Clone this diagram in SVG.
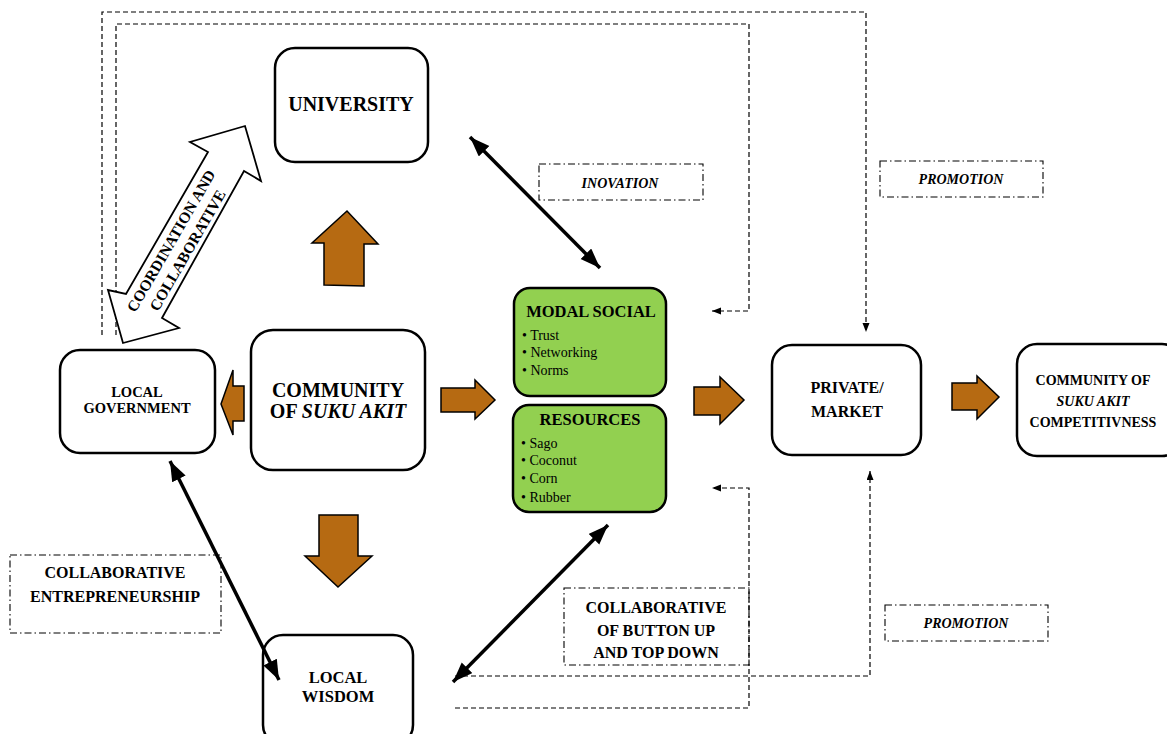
<svg xmlns="http://www.w3.org/2000/svg" width="1167" height="734" viewBox="0 0 1167 734">
<style>
.box{fill:#fff;stroke:#000;stroke-width:2.5}
.green{fill:#92D050;stroke:#000;stroke-width:2.5}
.orange{fill:#B66A12;stroke:#000;stroke-width:1.5;stroke-linejoin:miter}
.dash{fill:none;stroke:#000;stroke-width:1.2;stroke-dasharray:5 3}
.dd{fill:#fff;stroke:#000;stroke-width:1.1;stroke-dasharray:7 3 1.5 3}
.thick{fill:none;stroke:#000;stroke-width:3.5}
.b{font-weight:bold}
.c{text-anchor:middle}
.i{font-style:italic}
</style>
<defs>
<marker id="big" markerUnits="userSpaceOnUse" markerWidth="22" markerHeight="16" refX="20" refY="7.5" orient="auto-start-reverse" viewBox="0 0 22 16">
<path d="M0,0 L20,7.5 L0,15 z" fill="#000"/>
</marker>
<marker id="small" markerUnits="userSpaceOnUse" markerWidth="10" markerHeight="8" refX="9" refY="3.5" orient="auto" viewBox="0 0 10 8">
<path d="M0,0 L9,3.5 L0,7 z" fill="#000"/>
</marker>
</defs>

<g font-family="'Liberation Serif', 'DejaVu Serif', serif" fill="#000">

<g id="university">
<rect class="box" x="275" y="48" width="153" height="114" rx="20"/>
<text class="b c" x="351" y="111" font-size="20">UNIVERSITY</text>
</g>

<g id="local-government">
<rect class="box" x="60" y="350" width="155" height="103" rx="20"/>
<text class="b c" x="137" y="397" font-size="14.5">LOCAL</text>
<text class="b c" x="137" y="413" font-size="14.5">GOVERNMENT</text>
</g>

<g id="community">
<rect class="box" x="251" y="330" width="174" height="140" rx="22"/>
<text class="b c" x="338" y="397" font-size="20">COMMUNITY</text>
<text class="b c" x="338" y="418" font-size="20">OF <tspan class="i">SUKU AKIT</tspan></text>
</g>

<g id="local-wisdom">
<rect class="box" x="263" y="635" width="150" height="110" rx="20"/>
<text class="b c" x="338" y="683" font-size="16.5">LOCAL</text>
<text class="b c" x="338" y="702" font-size="16.5">WISDOM</text>
</g>

<g id="modal-social">
<rect class="green" x="514" y="288" width="152" height="108" rx="16"/>
<text class="b c" x="591" y="317" font-size="16.5">MODAL SOCIAL</text>
<text x="522" y="340" font-size="14">• Trust</text>
<text x="522" y="357" font-size="14">• Networking</text>
<text x="522" y="375" font-size="14">• Norms</text>
</g>

<g id="resources">
<rect class="green" x="513" y="405" width="153" height="107" rx="16"/>
<text class="b c" x="590" y="425" font-size="16.5">RESOURCES</text>
<text x="521" y="448" font-size="14">• Sago</text>
<text x="521" y="465" font-size="14">• Coconut</text>
<text x="521" y="483" font-size="14">• Corn</text>
<text x="521" y="502" font-size="14">• Rubber</text>
</g>

<g id="private-market">
<rect class="box" x="772" y="345" width="149" height="110" rx="20"/>
<text class="b c" x="847" y="393" font-size="16">PRIVATE/</text>
<text class="b c" x="847" y="417" font-size="16">MARKET</text>
</g>

<g id="competitiveness">
<rect class="box" x="1017" y="344" width="165" height="112" rx="20"/>
<text class="b c" x="1093" y="385" font-size="14">COMMUNITY OF</text>
<text class="b c i" x="1093" y="406" font-size="14">SUKU AKIT</text>
<text class="b c" x="1093" y="427" font-size="14">COMPETITIVNESS</text>
</g>

<g id="label-inovation">
<rect class="dd" x="539" y="164" width="164" height="36"/>
<text class="b c i" x="620" y="188" font-size="14">INOVATION</text>
</g>

<g id="label-promotion-top">
<rect class="dd" x="880" y="161" width="163" height="36"/>
<text class="b c i" x="961" y="184" font-size="14">PROMOTION</text>
</g>

<g id="label-promotion-bottom">
<rect class="dd" x="885" y="605" width="163" height="36"/>
<text class="b c i" x="966" y="628" font-size="14">PROMOTION</text>
</g>

<g id="label-collab-entrepreneurship">
<rect class="dd" x="10" y="555" width="211" height="78"/>
<text class="b c" x="115" y="578" font-size="16">COLLABORATIVE</text>
<text class="b c" x="115" y="602" font-size="16">ENTREPRENEURSHIP</text>
</g>

<g id="label-collab-button-up">
<rect class="dd" x="564" y="588" width="185" height="77"/>
<text class="b c" x="656" y="613" font-size="16">COLLABORATIVE</text>
<text class="b c" x="656" y="636" font-size="16">OF BUTTON UP</text>
<text class="b c" x="656" y="658" font-size="16">AND TOP DOWN</text>
</g>

<g id="connectors">
<path class="dash" d="M102,335 V12 H866 V332" marker-end="url(#small)"/>
<path class="dash" d="M116,335 V24 H749 V311 H712" marker-end="url(#small)"/>
<path class="dash" d="M455,676 H870 V471" marker-end="url(#small)"/>
<path class="dash" d="M455,708 H749 V488 H712" marker-end="url(#small)"/>
<line class="thick" x1="470" y1="137" x2="600" y2="268" marker-start="url(#big)" marker-end="url(#big)"/>
<line class="thick" x1="170" y1="461" x2="279" y2="680" marker-start="url(#big)" marker-end="url(#big)"/>
<line class="thick" x1="453" y1="682" x2="608" y2="525" marker-start="url(#big)" marker-end="url(#big)"/>
<polygon class="orange" points="324,285 364,286 364,244 378,244 347,211 312,243 324,243"/>
<polygon class="orange" points="244,386 233,386 233,370 221,404 233,435 233,421 244,421"/>
<polygon class="orange" points="441,388 475,388 475,380 495,400 475,419 475,412 441,412"/>
<polygon class="orange" points="319,515 358,515 358,556 372,556 338,587 305,556 319,556"/>
<polygon class="orange" points="694,387 720,387 720,377 744,400 720,424 720,415 694,415"/>
<polygon class="orange" points="952,383 977,383 977,376 999,397 977,419 977,410 952,410"/>
<polygon fill="#fff" stroke="#000" stroke-width="1.8" stroke-linejoin="miter" points="208,152 126,294 108,290 123,343 179,328 162,318 244,171 261,181 245,126 190,142"/>
<g transform="translate(180,246) rotate(-60)">
<text class="b c" x="0" y="-5" font-size="15.5">COORDINATION AND</text>
<text class="b c" x="0" y="14" font-size="15.5">COLLABORATIVE</text>
</g>
</g>

</g>
</svg>
